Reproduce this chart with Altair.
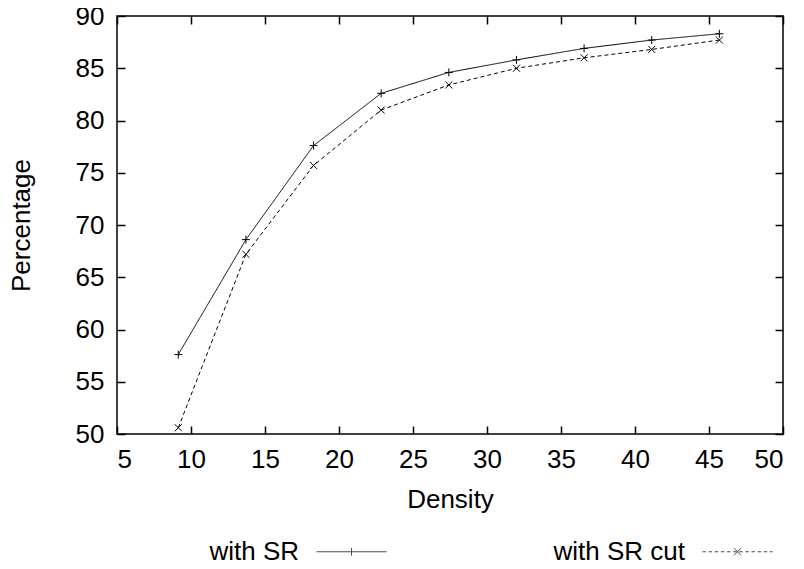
import altair as alt
import pandas as pd

# ---- data ----
density = [9.14, 13.71, 18.28, 22.85, 27.42, 31.99, 36.56, 41.13, 45.70]
with_sr = [57.6, 68.6, 77.6, 82.6, 84.6, 85.8, 86.9, 87.7, 88.3]
with_sr_cut = [50.6, 67.2, 75.7, 81.0, 83.4, 85.0, 86.0, 86.8, 87.7]
series_names = ["with SR", "with SR cut"]
x_ticks = [5, 10, 15, 20, 25, 30, 35, 40, 45, 50]
y_ticks = [50, 55, 60, 65, 70, 75, 80, 85, 90]

df = pd.DataFrame({
    "Density": density + density,
    "Percentage": with_sr + with_sr_cut,
    "series": [series_names[0]] * len(density) + [series_names[1]] * len(density),
})

FONT = "Liberation Sans"
TICK = 8

x_scale = alt.Scale(domain=[5, 50], nice=False, zero=False)
y_scale = alt.Scale(domain=[50, 90], nice=False, zero=False)

# marker shapes
PLUS = "M-1,0L1,0M0,-1L0,1"
CROSS = "M-1,-1L1,1M-1,1L1,-1"

# legend sample shapes (line + marker), unit box [-1,1] -> 70px
def dashed_segments(dash=0.1, gap=0.075):
    parts = []
    s = -1.0
    while s < 1.0:
        e = min(s + dash, 1.0)
        parts.append(f"M{s:.3f},0L{e:.3f},0")
        s = e + gap
    return "".join(parts)

LEG_SOLID = "M-1,0L1,0M0,-0.11L0,0.11"
LEG_DASHED = dashed_segments() + "M-0.1,-0.1L0.1,0.1M-0.1,0.1L0.1,-0.1"


def axis(orient, title=None, labels=True, values=None, label_pad=14, title_pad=0):
    # ticks drawn inward: axis shifted into the plot by TICK px, ticks point back out to the frame
    kw = dict(orient=orient, values=values, title=title, labels=labels,
              tickSize=TICK, offset=-TICK, domain=False, grid=False,
              labelPadding=label_pad)
    if title is not None:
        kw["titlePadding"] = title_pad
    return alt.Axis(**kw)


lines = alt.Chart(df).mark_line(color="black", strokeWidth=1).encode(
    x=alt.X("Density:Q", scale=x_scale,
            axis=axis("bottom", "Density", values=x_ticks, label_pad=12, title_pad=14)),
    y=alt.Y("Percentage:Q", scale=y_scale,
            axis=axis("left", "Percentage", values=y_ticks, label_pad=13, title_pad=41)),
    strokeDash=alt.StrokeDash("series:N",
                              scale=alt.Scale(domain=series_names, range=[[1, 0], [4, 3]]),
                              legend=None),
    detail="series:N",
)

markers = alt.Chart(df).mark_point(filled=False, color="black", strokeWidth=1, opacity=1).encode(
    x=alt.X("Density:Q", scale=x_scale, axis=None),
    y=alt.Y("Percentage:Q", scale=y_scale, axis=None),
    shape=alt.Shape("series:N", scale=alt.Scale(domain=series_names, range=[PLUS, CROSS]),
                    legend=None),
    size=alt.Size("series:N", scale=alt.Scale(domain=series_names, range=[64, 49]),
                  legend=None),
)

# invisible layer (size 0) that carries the top/right tick axes and the legend
legend_layer = alt.Chart(df).mark_point(
    filled=False, color="black", strokeWidth=1, size=0
).encode(
    x=alt.X("Density:Q", scale=x_scale,
            axis=axis("top", None, labels=False, values=x_ticks)),
    y=alt.Y("Percentage:Q", scale=y_scale,
            axis=axis("right", None, labels=False, values=y_ticks)),
    shape=alt.Shape("series2:N",
                    scale=alt.Scale(domain=series_names, range=[LEG_SOLID, LEG_DASHED]),
                    legend=alt.Legend(orient="none", legendX=199, legendY=500,
                                      direction="horizontal", columns=2, title=None,
                                      symbolSize=4900, symbolStrokeWidth=1,
                                      symbolStrokeColor="black",
                                      labelFont=FONT, labelFontSize=26, labelColor="black",
                                      labelAlign="right", labelOffset={"expr": "-88"},
                                      columnPadding=164, padding=0)),
).transform_calculate(series2="datum.series")

chart = alt.layer(lines, markers, legend_layer).resolve_scale(
    shape="independent", size="independent"
).properties(
    width=666,
    height=418,
    padding={"left": 109, "top": 8, "right": 12, "bottom": 135},
    autosize=alt.AutoSizeParams(type="none"),
    background="white",
).configure_view(
    stroke="black", strokeWidth=1.5
).configure_axis(
    labelFont=FONT, labelFontSize=26, labelColor="black",
    titleFont=FONT, titleFontSize=26, titleColor="black", titleFontWeight="normal",
    tickColor="black", tickWidth=1.5,
)

chart.save("out.html", embed_options={"renderer": "svg", "actions": False})
